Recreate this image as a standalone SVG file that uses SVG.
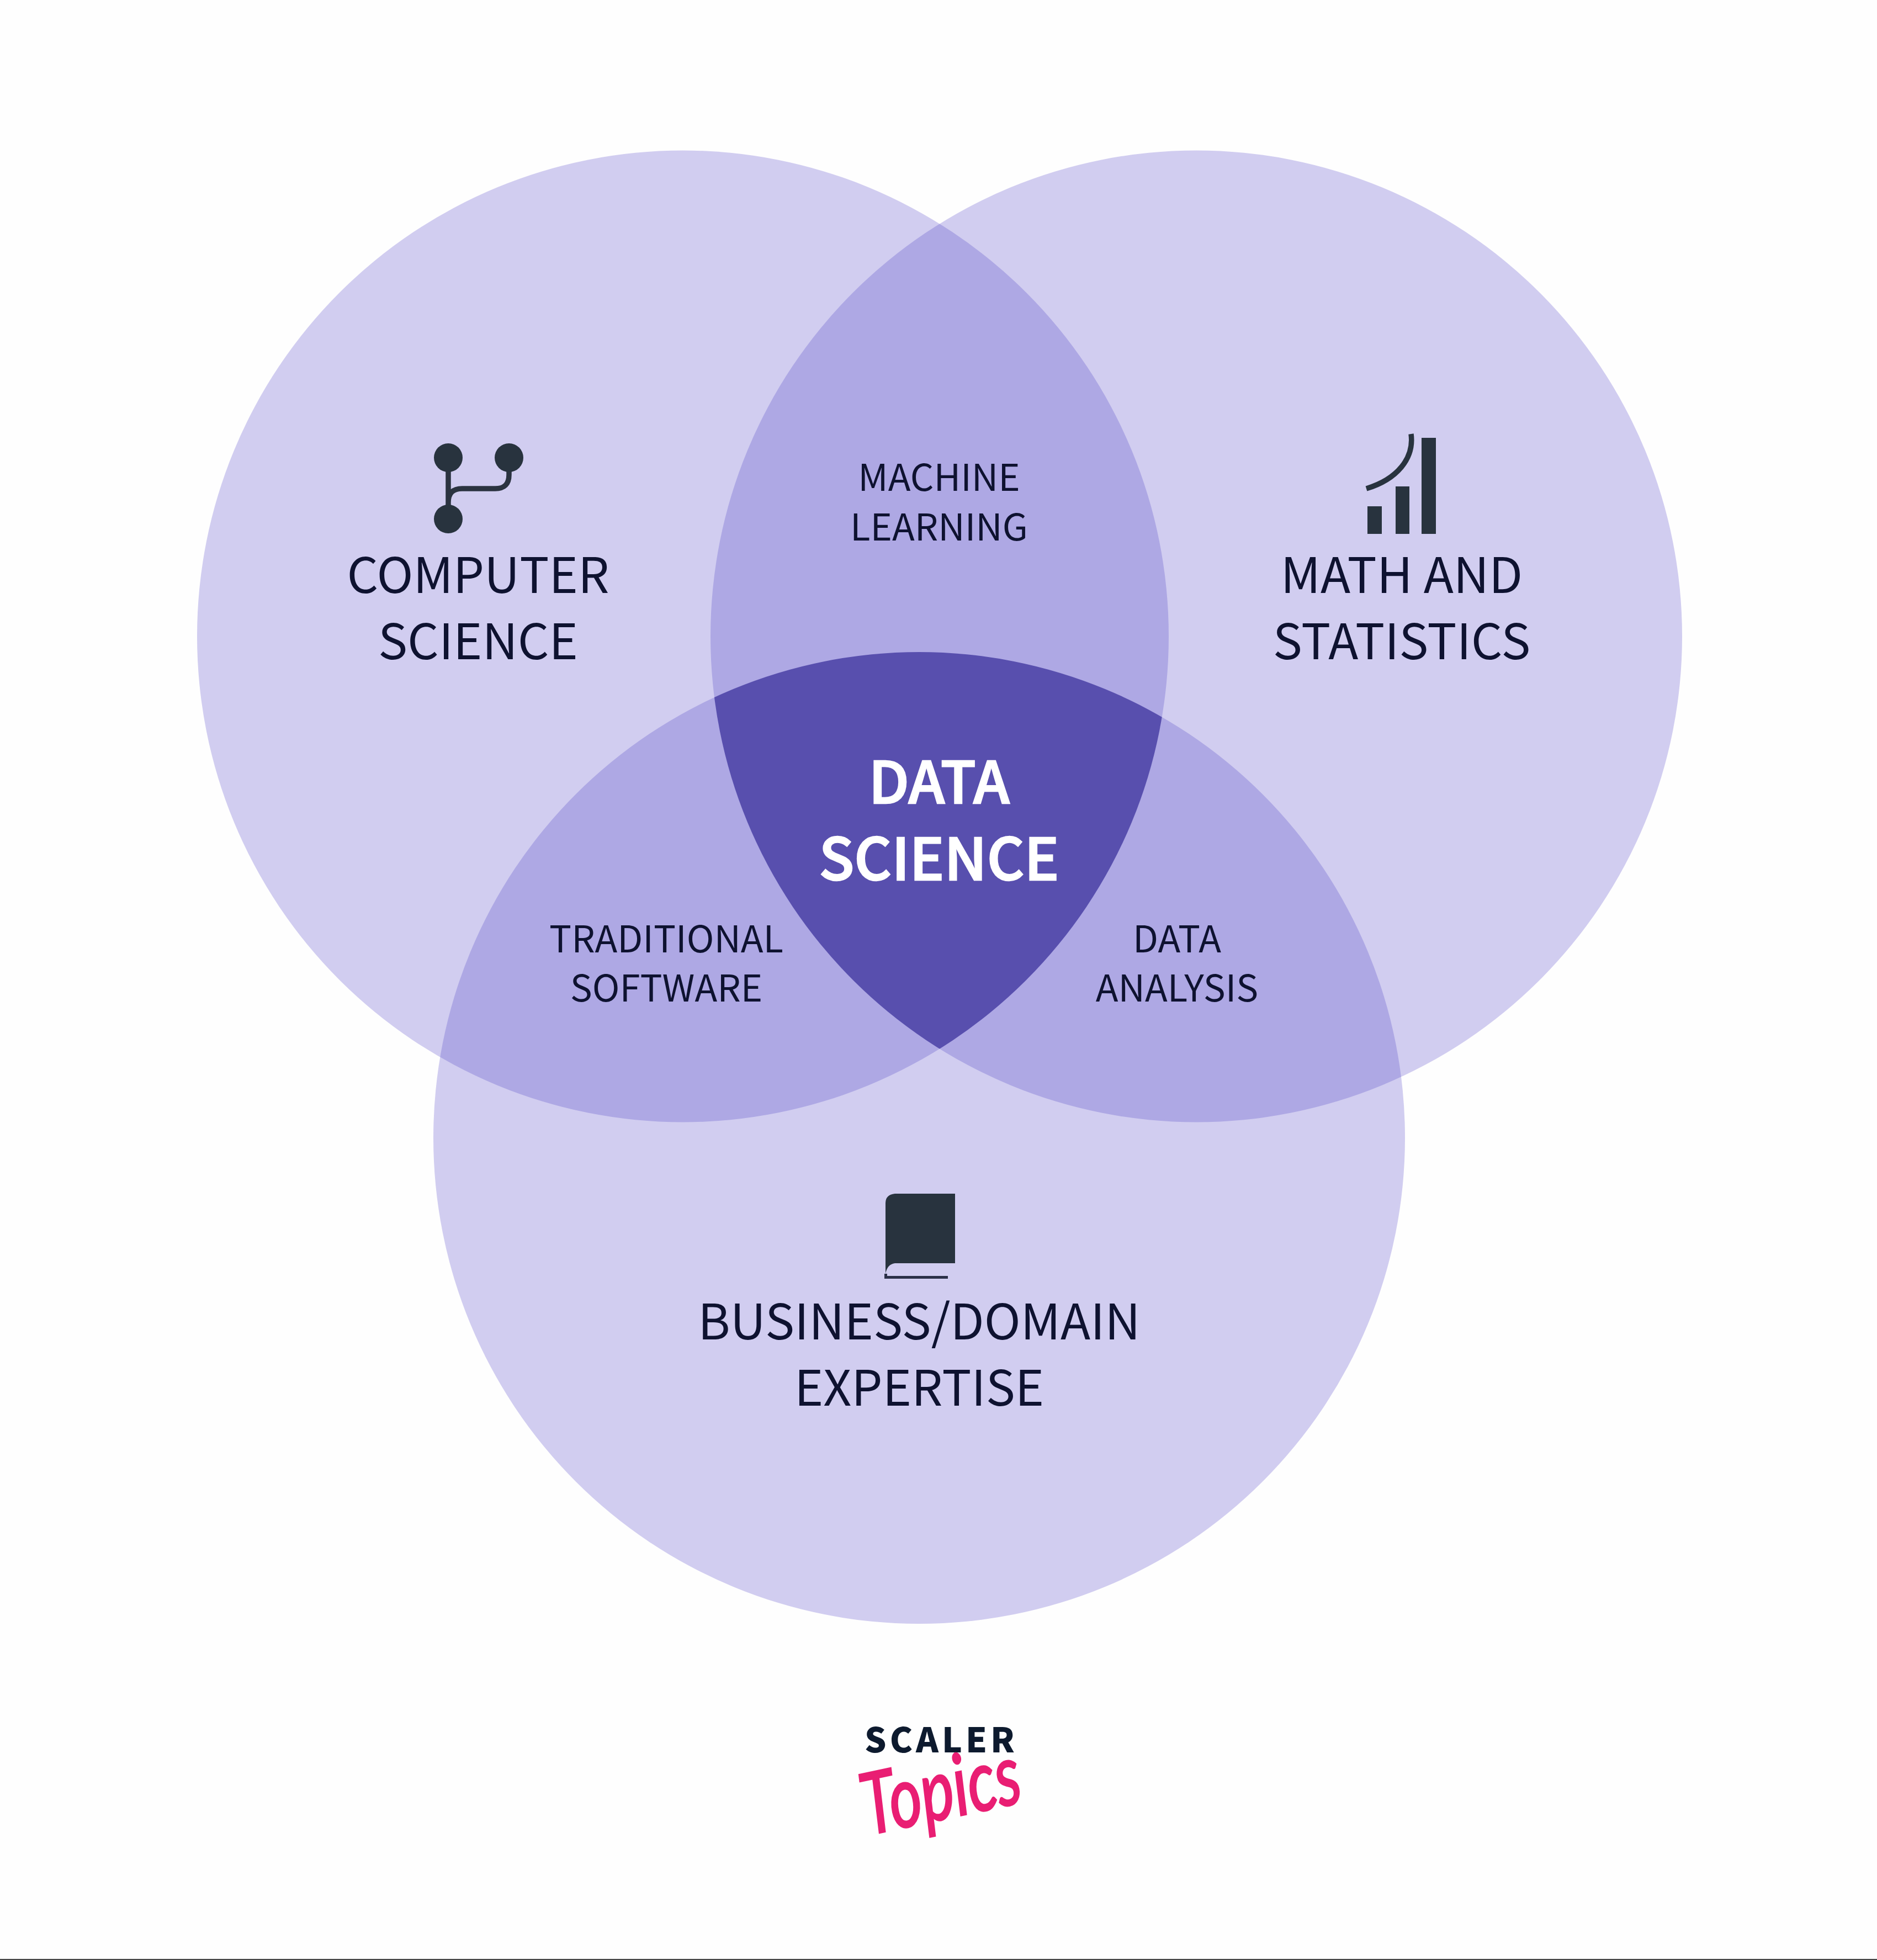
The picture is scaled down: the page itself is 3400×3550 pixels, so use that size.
<svg xmlns="http://www.w3.org/2000/svg" width="3400" height="3550" viewBox="0 0 3400 3550">
<style>
.t{font-family:"Noto Sans CJK SC","Noto Sans","Liberation Sans",sans-serif;text-anchor:middle;fill:#0e1230}
.big{font-size:89px}
.mid{font-size:67px}
.core{font-size:105px;font-weight:500;fill:#fff;stroke:#fff;stroke-width:2.5}
.ic{fill:#28333e}
.ln{fill:none;stroke:#2b3340;stroke-width:9.5}
</style>
<defs>
<clipPath id="c1"><circle cx="1237" cy="1152.500" r="880"/></clipPath>
<clipPath id="c2"><circle cx="2167" cy="1152.500" r="880"/></clipPath>
<clipPath id="c3"><circle cx="1665" cy="2061" r="880"/></clipPath>
</defs>
<rect width="3400" height="3550" fill="#fefefe"/>
<rect y="3548" width="3400" height="2" fill="#444"/>
<g id="circles" fill="#d1cdf0">
<circle cx="1237" cy="1152.500" r="880"/>
<circle cx="2167" cy="1152.500" r="880"/>
<circle cx="1665" cy="2061" r="880"/>
</g>
<g id="overlaps" fill="#aea8e4">
<g clip-path="url(#c1)"><circle cx="2167" cy="1152.500" r="880"/></g>
<g clip-path="url(#c1)"><circle cx="1665" cy="2061" r="880"/></g>
<g clip-path="url(#c2)"><circle cx="1665" cy="2061" r="880"/></g>
</g>
<g id="center" fill="#584fae"><g clip-path="url(#c1)"><g clip-path="url(#c2)"><circle cx="1665" cy="2061" r="880"/></g></g></g>
<g id="computer-science">
<path class="ln" d="M812 829V940M922 850V860Q922 885 897 885H837Q812 885 812 910"/>
<circle class="ic" cx="812" cy="829" r="26"/><circle class="ic" cx="922" cy="829" r="26"/><circle class="ic" cx="812" cy="940" r="26"/>
<text class="t big" x="866" y="1074">COMPUTER</text><text class="t big" x="866" y="1194">SCIENCE</text>
</g>
<g id="math-statistics">
<path class="ln" style="stroke:#28333e" d="M2475 885C2531 868 2562 830 2556 786"/>
<rect class="ic" x="2477" y="917" width="26" height="50"/><rect class="ic" x="2528" y="881" width="25" height="86"/><rect class="ic" x="2575" y="793" width="26" height="174"/>
<text class="t big" x="2539" y="1074">MATH AND</text><text class="t big" x="2539" y="1194">STATISTICS</text>
</g>
<g id="business-domain">
<path class="ic" d="M1621 2162H1730V2288H1621Q1607 2290 1604 2307V2179Q1604 2164 1621 2162Z"/>
<path fill="#2b3048" d="M1602 2307H1607V2311H1717V2316H1602Z"/>
<text class="t big" x="1665" y="2426">BUSINESS/DOMAIN</text><text class="t big" x="1665" y="2546">EXPERTISE</text>
</g>
<g id="machine-learning"><text class="t mid" x="1701" y="889">MACHINE</text><text class="t mid" x="1701" y="979">LEARNING</text></g>
<g id="traditional-software"><text class="t mid" x="1207" y="1725">TRADITIONAL</text><text class="t mid" x="1207" y="1814">SOFTWARE</text></g>
<g id="data-analysis"><text class="t mid" x="2132" y="1725">DATA</text><text class="t mid" x="2132" y="1814">ANALYSIS</text></g>
<g id="data-science"><text class="t core" x="1701" y="1455">DATA</text><text class="t core" x="1701" y="1594">SCIENCE</text></g>
<g id="logo">
<text x="1705" y="3174" text-anchor="middle" font-family="'Noto Sans CJK SC','Liberation Sans',sans-serif" font-weight="900" font-size="62" letter-spacing="6" fill="#0d1a2e">SCALER</text>
<text transform="translate(1572 3324) rotate(-12) scale(.81 1.1)" font-family="Lato,sans-serif" font-style="italic" font-size="140" stroke="#e91e73" stroke-width="3" fill="#e91e73">Topics</text>
</g>
</svg>
